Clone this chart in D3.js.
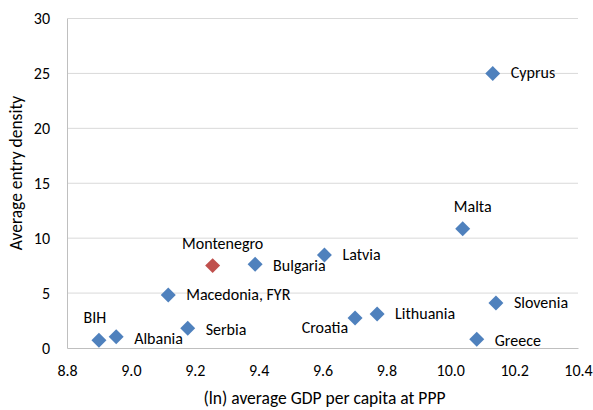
<!DOCTYPE html>
<html>
<head>
<meta charset="utf-8">
<script src="https://cdn.jsdelivr.net/npm/d3@7"></script>
<style>
  body { margin: 0; background: #fff; }
  text { font-family: Carlito, Lato, "Open Sans", sans-serif; fill: #000; }
</style>
</head>
<body>
<svg id="chart" width="593" height="410"></svg>
<script>
// data
const countries = ["Cyprus", "Malta", "Latvia", "Slovenia", "Lithuania", "Croatia", "Greece",
    "Montenegro", "Bulgaria", "Macedonia, FYR", "Serbia", "BIH", "Albania"];
const gdp = [10.133, 10.039, 9.606, 10.143, 9.771, 9.702, 10.083, 9.256, 9.389, 9.117, 9.178, 8.900, 8.954];
const density = [25.0, 10.85, 8.47, 4.1, 3.1, 2.73, 0.79, 7.5, 7.62, 4.83, 1.79, 0.7, 1.03];
// label placement: r = right, l = left, a = above
const labelPos = ["r", "a", "r", "r", "r", "l", "r", "a", "r", "r", "r", "a", "r"];
const highlight = "Montenegro";

const xTicks = [8.8, 9.0, 9.2, 9.4, 9.6, 9.8, 10.0, 10.2, 10.4];
const yTicks = [0, 5, 10, 15, 20, 25, 30];

const svg = d3.select("#chart");
const margin = { left: 67, right: 15, top: 18.5, bottom: 62 };
const width = 593 - margin.left - margin.right;
const height = 410 - margin.top - margin.bottom;

const x = d3.scaleLinear().domain([8.8, 10.4]).range([0, width]);
const y = d3.scaleLinear().domain([0, 30]).range([height, 0]);

const g = svg.append("g").attr("transform", `translate(${margin.left},${margin.top})`);

// gridlines
g.selectAll(".grid").data(yTicks.filter(d => d > 0)).enter().append("line")
    .attr("x1", 0).attr("x2", width)
    .attr("y1", d => y(d)).attr("y2", d => y(d))
    .attr("stroke", "#d9d9d9").attr("stroke-width", 1);

// axes
const xAxis = g.append("g").attr("transform", `translate(0,${height})`)
    .call(d3.axisBottom(x).tickValues(xTicks).tickFormat(d3.format(".1f")).tickSize(0).tickPadding(17));
const yAxis = g.append("g")
    .call(d3.axisLeft(y).tickValues(yTicks).tickSize(0).tickPadding(17));
[xAxis, yAxis].forEach(a => {
    a.select(".domain").attr("stroke", "#bfbfbf");
    a.selectAll("text").attr("font-size", 16).attr("font-family", "Carlito, Lato, 'Open Sans', sans-serif").attr("fill", "#000");
});

// axis titles
svg.append("text")
    .attr("x", margin.left + width / 2 + 2)
    .attr("y", 404)
    .attr("text-anchor", "middle")
    .attr("font-size", 17.5)
    .text("(ln) average GDP per capita at PPP");

svg.append("text")
    .attr("transform", "translate(22,173) rotate(-90)")
    .attr("text-anchor", "middle")
    .attr("font-size", 17.5)
    .text("Average entry density");

// points
const points = countries.map((c, i) => ({ name: c, gx: gdp[i], dy: density[i], pos: labelPos[i] }));
const diamond = d3.symbol(d3.symbolSquare, 112);

g.selectAll(".pt").data(points).enter().append("path")
    .attr("d", diamond)
    .attr("transform", d => `translate(${x(d.gx)},${y(d.dy)}) rotate(45)`)
    .attr("fill", d => d.name === highlight ? "#c0504d" : "#4f81bd");

// labels
g.selectAll(".lbl").data(points).enter().append("text")
    .attr("font-size", 16)
    .attr("x", d => d.pos === "r" ? x(d.gx) + 18 : d.pos === "l" ? x(d.gx) - 7 : x(d.gx) + (d.name === "BIH" ? -4 : 10))
    .attr("y", d => {
        if (d.pos === "a") return y(d.dy) - 17;
        if (d.pos === "l") return y(d.dy) + 15;
        return y(d.dy) + 5 + (d.name === "Albania" || d.name === "Bulgaria" || d.name === "Serbia" || d.name === "Greece" ? 2 : 0);
    })
    .attr("text-anchor", d => d.pos === "r" ? "start" : d.pos === "l" ? "end" : "middle")
    .text(d => d.name);
</script>
</body>
</html>
